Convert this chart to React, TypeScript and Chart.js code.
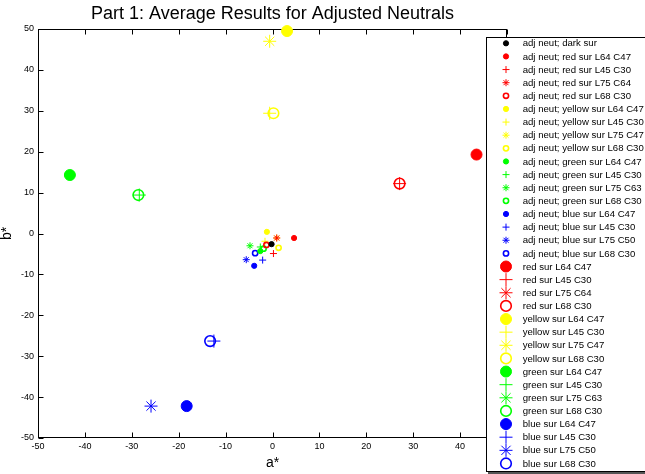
import React, { useEffect, useRef } from 'react';
import { Chart, registerables } from 'chart.js';
import { drawPoint } from 'chart.js/helpers';

Chart.register(...registerables);

const SERIES_LABELS = [
  'adj neut; dark sur',
  'adj neut; red sur L64 C47',
  'adj neut; red sur L45 C30',
  'adj neut; red sur L75 C64',
  'adj neut; red sur L68 C30',
  'adj neut; yellow sur L64 C47',
  'adj neut; yellow sur L45 C30',
  'adj neut; yellow sur L75 C47',
  'adj neut; yellow sur L68 C30',
  'adj neut; green sur L64 C47',
  'adj neut; green sur L45 C30',
  'adj neut; green sur L75 C63',
  'adj neut; green sur L68 C30',
  'adj neut; blue sur L64 C47',
  'adj neut; blue sur L45 C30',
  'adj neut; blue sur L75 C50',
  'adj neut; blue sur L68 C30',
  'red sur L64 C47',
  'red sur L45 C30',
  'red sur L75 C64',
  'red sur L68 C30',
  'yellow sur L64 C47',
  'yellow sur L45 C30',
  'yellow sur L75 C47',
  'yellow sur L68 C30',
  'green sur L64 C47',
  'green sur L45 C30',
  'green sur L75 C63',
  'green sur L68 C30',
  'blue sur L64 C47',
  'blue sur L45 C30',
  'blue sur L75 C50',
  'blue sur L68 C30',
];

// a* values (null = not visible in plot)
const A_VALUES: (number | null)[] = [
  -0.2, 4.6, 0.2, 0.9, -1.3,
  -1.2, -1.6, 0.9, 1.3,
  -2.6, -2.6, -4.8, -1.9,
  -3.9, -2.1, -5.6, -3.7,
  43.5, 27.1, null, 27.1,
  3.1, -0.6, -0.6, 0.2,
  -43.2, -28.4, null, -28.6,
  -18.3, -12.5, -25.9, -13.3,
];

// b* values
const B_VALUES: (number | null)[] = [
  -2.6, -1.1, -4.9, -1.1, -2.8,
  0.4, -1.9, -1.1, -3.5,
  -4.3, -3.3, -3.0, -3.7,
  -7.9, -6.5, -6.4, -4.8,
  19.3, 12.2, null, 12.2,
  49.5, 29.4, 47.0, 29.4,
  14.3, 9.4, null, 9.4,
  -42.2, -26.3, -42.2, -26.3,
];

const SERIES_COLORS = [
  '#000000',
  '#ff0000', '#ff0000', '#ff0000', '#ff0000',
  '#ffff00', '#ffff00', '#ffff00', '#ffff00',
  '#00ff00', '#00ff00', '#00ff00', '#00ff00',
  '#0000ff', '#0000ff', '#0000ff', '#0000ff',
  '#ff0000', '#ff0000', '#ff0000', '#ff0000',
  '#ffff00', '#ffff00', '#ffff00', '#ffff00',
  '#00ff00', '#00ff00', '#00ff00', '#00ff00',
  '#0000ff', '#0000ff', '#0000ff', '#0000ff',
];

const MARKER_CYCLE = ['filled', 'plus', 'star', 'ring'];
const SERIES_MARKERS = SERIES_LABELS.map((_, i) =>
  i === 0 ? 'filled' : MARKER_CYCLE[(i - 1) % 4]
);
const SERIES_LARGE = SERIES_LABELS.map((_, i) => i >= 17);

const X_MIN = -50;
const X_MAX = 50;
const Y_MIN = -50;
const Y_MAX = 50;
const TICK_STEP = 10;

const FONT = "'Liberation Sans', Arial, Helvetica, sans-serif";

function markerStyle(kind: string, large: boolean, color: string) {
  const s = large ? 1 : 0;
  switch (kind) {
    case 'filled':
      return { pointStyle: 'circle', radius: s ? 5.5 : 2.6, borderWidth: 1, fill: color };
    case 'ring':
      return { pointStyle: 'circle', radius: s ? 5.3 : 2.6, borderWidth: 1.6, fill: 'rgba(0,0,0,0)' };
    case 'plus':
      return { pointStyle: 'cross', radius: s ? 6.5 : 3.5, borderWidth: 1, fill: 'rgba(0,0,0,0)' };
    default:
      return { pointStyle: 'star', radius: s ? 6.5 : 3.5, borderWidth: 1, fill: 'rgba(0,0,0,0)' };
  }
}

const boxPlugin = {
  id: 'matlabBox',
  beforeDatasetsDraw(chart: any) {
    const { ctx, chartArea } = chart;
    const { left, right, top, bottom } = chartArea;
    const xs = chart.scales.x;
    const ys = chart.scales.y;
    ctx.save();
    ctx.strokeStyle = '#000';
    ctx.lineWidth = 1;
    const L = Math.round(left) + 0.5;
    const R = Math.round(right) - 0.5;
    const T = Math.round(top) + 0.5;
    const B = Math.round(bottom) - 0.5;
    ctx.strokeRect(L, T, R - L, B - T);
    const tl = 5;
    ctx.beginPath();
    xs.ticks.forEach((t: any) => {
      const px = Math.round(xs.getPixelForValue(t.value)) + 0.5;
      ctx.moveTo(px, B);
      ctx.lineTo(px, B - tl);
      ctx.moveTo(px, T);
      ctx.lineTo(px, T + tl);
    });
    ys.ticks.forEach((t: any) => {
      const py = Math.round(ys.getPixelForValue(t.value)) + 0.5;
      ctx.moveTo(L, py);
      ctx.lineTo(L + tl, py);
      ctx.moveTo(R, py);
      ctx.lineTo(R - tl, py);
    });
    ctx.stroke();
    ctx.restore();
  },
};

const legendPlugin = {
  id: 'matlabLegend',
  afterDraw(chart: any) {
    const { ctx, chartArea } = chart;
    const boxLeft = Math.round(chartArea.right) - 21;
    const boxTop = Math.round(chartArea.top) + 8;
    const boxBottom = chart.height - 3;
    const boxRight = chart.width + 20;
    ctx.save();
    ctx.fillStyle = '#ffffff';
    ctx.fillRect(boxLeft, boxTop, boxRight - boxLeft, boxBottom - boxTop);
    ctx.strokeStyle = '#000000';
    ctx.lineWidth = 1;
    ctx.strokeRect(boxLeft + 0.5, boxTop + 0.5, boxRight - boxLeft, boxBottom - boxTop);
    ctx.fillStyle = '#555555';
    ctx.fillRect(boxLeft + 2, boxBottom + 1, boxRight - boxLeft, 2);

    const rowStart = boxTop + 6.3;
    const rowStep = 13.13;
    const markerX = boxLeft + 20;
    const textX = boxLeft + 36.7;
    ctx.font = `9.6px ${FONT}`;
    ctx.textBaseline = 'middle';
    ctx.textAlign = 'left';
    chart.data.datasets.forEach((ds: any, i: number) => {
      const y = rowStart + i * rowStep;
      ctx.save();
      ctx.fillStyle = ds.pointBackgroundColor;
      ctx.strokeStyle = ds.pointBorderColor;
      ctx.lineWidth = ds.pointBorderWidth;
      drawPoint(ctx, { pointStyle: ds.pointStyle, radius: ds.pointRadius, borderWidth: ds.pointBorderWidth, rotation: 0 }, markerX, y);
      ctx.restore();
      ctx.fillStyle = '#000000';
      ctx.fillText(ds.label, textX, y + 0.5);
    });
    ctx.restore();
  },
};

export default function App() {
  const ref = useRef<HTMLCanvasElement>(null);

  useEffect(() => {
    const datasets = SERIES_LABELS.map((label, i) => {
      const m = markerStyle(SERIES_MARKERS[i], SERIES_LARGE[i], SERIES_COLORS[i]);
      const a = A_VALUES[i];
      const b = B_VALUES[i];
      return {
        label,
        data: a === null || b === null ? [] : [{ x: a, y: b }],
        pointStyle: m.pointStyle,
        pointRadius: m.radius,
        pointHoverRadius: m.radius,
        pointBorderWidth: m.borderWidth,
        pointBorderColor: SERIES_COLORS[i],
        pointBackgroundColor: m.fill,
        showLine: false,
        clip: false as any,
      };
    });

    const chart = new Chart(ref.current as HTMLCanvasElement, {
      type: 'scatter',
      data: { datasets: datasets as any },
      options: {
        animation: false,
        responsive: false,
        devicePixelRatio: 1,
        events: [],
        layout: { padding: { left: 0, right: 138, top: 0, bottom: 0 } },
        plugins: {
          legend: { display: false },
          tooltip: { enabled: false },
          title: {
            display: true,
            text: 'Part 1: Average Results for Adjusted Neutrals',
            color: '#000',
            fullSize: false,
            font: { family: FONT, size: 18, weight: 'normal' },
            padding: { top: 3, bottom: 4.4 },
          },
        },
        scales: {
          x: {
            type: 'linear',
            min: X_MIN,
            max: X_MAX,
            afterFit: (s: any) => { s.height = 36; },
            grid: { display: false, drawTicks: false },
            border: { display: false },
            ticks: {
              stepSize: TICK_STEP,
              color: '#000',
              font: { family: FONT, size: 9 },
              padding: 3,
              maxRotation: 0,
              autoSkip: false,
            },
            title: {
              display: true,
              text: 'a*',
              color: '#000',
              font: { family: FONT, size: 14 },
              padding: { top: 0, bottom: 2.5 },
            },
          },
          y: {
            type: 'linear',
            min: Y_MIN,
            max: Y_MAX,
            afterFit: (s: any) => { s.width = 38; },
            grid: { display: false, drawTicks: false },
            border: { display: false },
            ticks: {
              stepSize: TICK_STEP,
              color: '#000',
              font: { family: FONT, size: 9 },
              padding: 4,
              autoSkip: false,
            },
            title: {
              display: true,
              text: 'b*',
              color: '#000',
              font: { family: FONT, size: 14 },
              padding: { top: -1, bottom: 0 },
            },
          },
        },
      },
      plugins: [boxPlugin, legendPlugin],
    } as any);

    return () => chart.destroy();
  }, []);

  return (
    <div style={{ position: 'fixed', left: 0, top: 0, width: 645, height: 474, background: '#ffffff' }}>
      <canvas ref={ref} width={645} height={474} style={{ display: 'block' }} />
    </div>
  );
}
